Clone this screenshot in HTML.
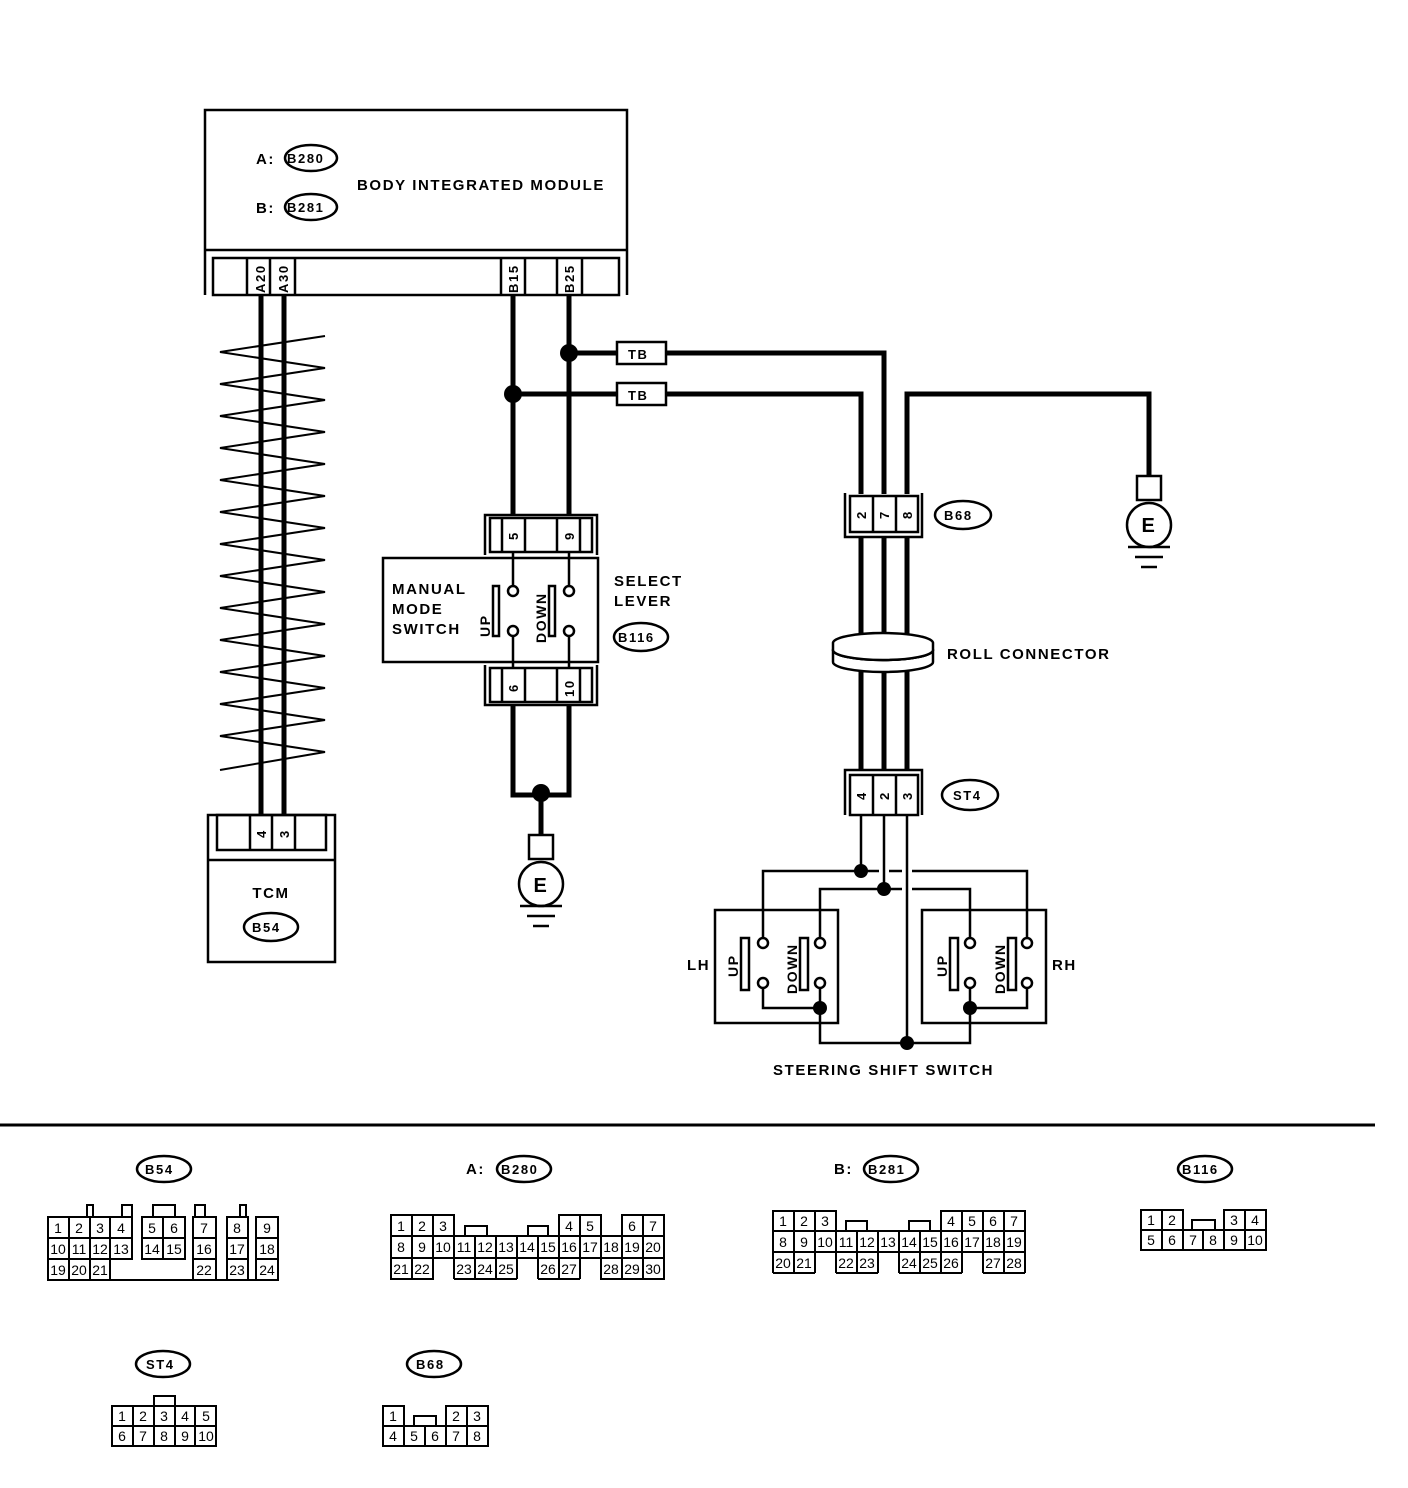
<!DOCTYPE html>
<html><head><meta charset="utf-8"><style>
html,body{margin:0;padding:0;background:#fff}
svg{display:block}
text{font-family:"Liberation Sans",sans-serif;font-weight:bold;fill:#000}
.lab text{letter-spacing:1.6px}
.c text{font-weight:normal;font-size:14px;text-anchor:middle}
</style></head><body>
<svg width="1408" height="1488" viewBox="0 0 1408 1488" xmlns="http://www.w3.org/2000/svg">
<g fill="none" stroke="#000" stroke-width="2.5">
<polyline points="205,295 205,110 627,110 627,295"/>
<line x1="205" y1="250" x2="627" y2="250"/>
<rect x="213" y="258" width="406" height="37"/>
<line x1="247" y1="258" x2="247" y2="295"/><line x1="270" y1="258" x2="270" y2="295"/><line x1="295" y1="258" x2="295" y2="295"/>
<line x1="501" y1="258" x2="501" y2="295"/><line x1="525" y1="258" x2="525" y2="295"/>
<line x1="557" y1="258" x2="557" y2="295"/><line x1="582" y1="258" x2="582" y2="295"/>
<ellipse cx="311" cy="158" rx="26" ry="13"/>
<ellipse cx="311" cy="207" rx="26" ry="13"/>
<polyline stroke-width="2" points="325,336 220,352 325,368 220,384 325,400 220,416 325,432 220,448 325,464 220,480 325,496 220,512 325,528 220,544 325,560 220,576 325,592 220,608 325,624 220,640 325,656 220,672 325,688 220,704 325,720 220,736 325,752 220,770"/>
<g stroke-width="5">
<line x1="261" y1="295" x2="261" y2="815"/><line x1="284" y1="295" x2="284" y2="815"/>
<line x1="513" y1="295" x2="513" y2="515"/><line x1="569" y1="295" x2="569" y2="515"/>
<line x1="569" y1="353" x2="617" y2="353"/><polyline points="665,353 884,353 884,494"/>
<line x1="513" y1="394" x2="617" y2="394"/><polyline points="665,394 861,394 861,494"/>
<polyline points="907,494 907,394 1149,394 1149,476"/>
<line x1="861" y1="537" x2="861" y2="770"/><line x1="884" y1="537" x2="884" y2="770"/><line x1="907" y1="537" x2="907" y2="770"/>
<polyline points="513,705 513,795 569,795 569,705"/>
<line x1="541" y1="795" x2="541" y2="835"/>
</g>
<rect x="617" y="342" width="49" height="22" fill="#fff"/>
<rect x="617" y="383" width="49" height="22" fill="#fff"/>
<polyline points="845,493 845,537 922,537 922,493"/>
<rect x="850" y="496" width="68" height="36" fill="#fff"/>
<line x1="873" y1="496" x2="873" y2="532"/><line x1="896" y1="496" x2="896" y2="532"/>
<ellipse cx="963" cy="515" rx="28" ry="14"/>
<path d="M833,650 a50,10 0 0,0 100,0 v12 a50,10 0 0,1 -100,0 z" fill="#fff"/>
<ellipse cx="883" cy="650" rx="50" ry="10" fill="#fff"/>
<path d="M833,643 a50,10 0 0,1 100,0 v7 a50,10 0 0,1 -100,0 z" fill="#fff"/>
<polyline points="845,815 845,770 922,770 922,815"/>
<rect x="850" y="775" width="68" height="40" fill="#fff"/>
<line x1="873" y1="775" x2="873" y2="815"/><line x1="896" y1="775" x2="896" y2="815"/>
<ellipse cx="970" cy="795" rx="28" ry="15"/>
<rect x="1137" y="476" width="24" height="24"/>
<circle cx="1149" cy="525" r="22"/>
<line x1="1128" y1="547" x2="1170" y2="547"/><line x1="1135" y1="557" x2="1163" y2="557"/><line x1="1141" y1="567" x2="1157" y2="567"/>
<rect x="529" y="835" width="24" height="24"/>
<circle cx="541" cy="884" r="22"/>
<line x1="520" y1="906" x2="562" y2="906"/><line x1="527" y1="916" x2="555" y2="916"/><line x1="533" y1="926" x2="549" y2="926"/>
<polyline points="485,555 485,515 597,515 597,555"/>
<rect x="490" y="518" width="102" height="34"/>
<line x1="502" y1="518" x2="502" y2="552"/><line x1="525" y1="518" x2="525" y2="552"/><line x1="557" y1="518" x2="557" y2="552"/><line x1="580" y1="518" x2="580" y2="552"/>
<rect x="383" y="558" width="215" height="104"/>
<polyline points="485,665 485,705 597,705 597,665"/>
<rect x="490" y="668" width="102" height="34"/>
<line x1="502" y1="668" x2="502" y2="702"/><line x1="525" y1="668" x2="525" y2="702"/><line x1="557" y1="668" x2="557" y2="702"/><line x1="580" y1="668" x2="580" y2="702"/>
<line x1="513" y1="552" x2="513" y2="585"/><line x1="569" y1="552" x2="569" y2="585"/>
<line x1="513" y1="637" x2="513" y2="668"/><line x1="569" y1="637" x2="569" y2="668"/>
<circle cx="513" cy="591" r="5"/><circle cx="513" cy="631" r="5"/><circle cx="569" cy="591" r="5"/><circle cx="569" cy="631" r="5"/>
<rect x="493" y="586" width="6" height="50"/><rect x="549" y="586" width="6" height="50"/>
<ellipse cx="641" cy="637" rx="27" ry="14"/>
<rect x="208" y="815" width="127" height="147"/>
<line x1="208" y1="860" x2="335" y2="860"/>
<rect x="217" y="815" width="109" height="35"/>
<line x1="250" y1="815" x2="250" y2="850"/><line x1="272" y1="815" x2="272" y2="850"/><line x1="295" y1="815" x2="295" y2="850"/>
<ellipse cx="271" cy="927" rx="27" ry="14"/>
<line x1="861" y1="815" x2="861" y2="871"/><line x1="884" y1="815" x2="884" y2="889"/><line x1="907" y1="815" x2="907" y2="1043"/>
<polyline points="763,937 763,871 879,871"/><polyline points="889,871 902,871"/><polyline points="912,871 1027,871 1027,937"/>
<polyline points="820,937 820,889 902,889"/><polyline points="912,889 970,889 970,937"/>
<rect x="715" y="910" width="123" height="113"/>
<rect x="922" y="910" width="124" height="113"/>
<rect x="741" y="938" width="8" height="52"/><rect x="800" y="938" width="8" height="52"/>
<rect x="950" y="938" width="8" height="52"/><rect x="1008" y="938" width="8" height="52"/>
<circle cx="763" cy="943" r="5"/><circle cx="763" cy="983" r="5"/><circle cx="820" cy="943" r="5"/><circle cx="820" cy="983" r="5"/>
<circle cx="970" cy="943" r="5"/><circle cx="970" cy="983" r="5"/><circle cx="1027" cy="943" r="5"/><circle cx="1027" cy="983" r="5"/>
<polyline points="763,988 763,1008 820,1008"/><line x1="820" y1="988" x2="820" y2="1008"/>
<polyline points="1027,988 1027,1008 970,1008"/><line x1="970" y1="988" x2="970" y2="1008"/>
<polyline points="820,1008 820,1043 970,1043 970,1008"/>
<line x1="0" y1="1125" x2="1375" y2="1125" stroke-width="3"/>
<ellipse cx="164" cy="1169" rx="27" ry="13"/>
<ellipse cx="524" cy="1169" rx="27" ry="13"/>
<ellipse cx="891" cy="1169" rx="27" ry="13"/>
<ellipse cx="1205" cy="1169" rx="27" ry="13"/>
<ellipse cx="163" cy="1364" rx="27" ry="13"/>
<ellipse cx="434" cy="1364" rx="27" ry="13"/>
</g>
<g fill="#000">
<circle cx="569" cy="353" r="9"/><circle cx="513" cy="394" r="9"/><circle cx="541" cy="793" r="9"/>
<circle cx="861" cy="871" r="7"/><circle cx="884" cy="889" r="7"/><circle cx="907" cy="1043" r="7"/>
<circle cx="820" cy="1008" r="7"/><circle cx="970" cy="1008" r="7"/>
</g>
<g font-size="15" class="lab">
<text x="256" y="164">A:</text><text x="287" y="163" font-size="13">B280</text>
<text x="256" y="213">B:</text><text x="287" y="212" font-size="13">B281</text>
<text x="357" y="190">BODY INTEGRATED MODULE</text>
<text x="628" y="359" font-size="13">TB</text><text x="628" y="400" font-size="13">TB</text>
<text x="944" y="520" font-size="13">B68</text>
<text x="947" y="659">ROLL CONNECTOR</text>
<text x="953" y="800" font-size="13">ST4</text>
<text x="1149" y="532" text-anchor="middle" font-size="20">E</text>
<text x="541" y="892" text-anchor="middle" font-size="20">E</text>
<text x="392" y="594">MANUAL</text><text x="392" y="614">MODE</text><text x="392" y="634">SWITCH</text>
<text x="614" y="586">SELECT</text><text x="614" y="606">LEVER</text>
<text x="618" y="642" font-size="13">B116</text>
<text x="271" y="898" text-anchor="middle">TCM</text>
<text x="252" y="932" font-size="13">B54</text>
<text x="687" y="970">LH</text><text x="1052" y="970">RH</text>
<text x="773" y="1075">STEERING SHIFT SWITCH</text>
<text x="145" y="1174" font-size="13">B54</text>
<text x="466" y="1174">A:</text><text x="501" y="1174" font-size="13">B280</text>
<text x="834" y="1174">B:</text><text x="868" y="1174" font-size="13">B281</text>
<text x="1182" y="1174" font-size="13">B116</text>
<text x="146" y="1369" font-size="13">ST4</text>
<text x="416" y="1369" font-size="13">B68</text>
</g>
<g font-size="13" class="lab">
<text transform="translate(265,293) rotate(-90)">A20</text>
<text transform="translate(288,293) rotate(-90)">A30</text>
<text transform="translate(518,293) rotate(-90)">B15</text>
<text transform="translate(574,293) rotate(-90)">B25</text>
<text transform="translate(518,540) rotate(-90)">5</text>
<text transform="translate(574,540) rotate(-90)">9</text>
<text transform="translate(518,692) rotate(-90)">6</text>
<text transform="translate(574,697) rotate(-90)">10</text>
<text transform="translate(866,519) rotate(-90)">2</text>
<text transform="translate(889,519) rotate(-90)">7</text>
<text transform="translate(912,519) rotate(-90)">8</text>
<text transform="translate(866,800) rotate(-90)">4</text>
<text transform="translate(889,800) rotate(-90)">2</text>
<text transform="translate(912,800) rotate(-90)">3</text>
<text transform="translate(266,838) rotate(-90)">4</text>
<text transform="translate(289,838) rotate(-90)">3</text>
<text transform="translate(490,637) rotate(-90)" font-size="14">UP</text>
<text transform="translate(546,643) rotate(-90)" font-size="14">DOWN</text>
<text transform="translate(738,977) rotate(-90)" font-size="14">UP</text>
<text transform="translate(797,994) rotate(-90)" font-size="14">DOWN</text>
<text transform="translate(947,977) rotate(-90)" font-size="14">UP</text>
<text transform="translate(1005,994) rotate(-90)" font-size="14">DOWN</text>
</g>
<g class="c" stroke="#000" stroke-width="2" fill="none">
<rect x="87" y="1205" width="6" height="12"/><rect x="122" y="1205" width="10" height="12"/><rect x="153" y="1205" width="22" height="12"/><rect x="195" y="1205" width="10" height="12"/><rect x="240" y="1205" width="6" height="12"/>
<rect x="48" y="1217" width="21" height="21"/><rect x="69" y="1217" width="21" height="21"/><rect x="90" y="1217" width="20" height="21"/><rect x="110" y="1217" width="22" height="21"/>
<rect x="142" y="1217" width="21" height="21"/><rect x="163" y="1217" width="22" height="21"/><rect x="193" y="1217" width="23" height="21"/><rect x="227" y="1217" width="21" height="21"/><rect x="256" y="1217" width="22" height="21"/>
<rect x="48" y="1238" width="21" height="21"/><rect x="69" y="1238" width="21" height="21"/><rect x="90" y="1238" width="20" height="21"/><rect x="110" y="1238" width="22" height="21"/>
<rect x="142" y="1238" width="21" height="21"/><rect x="163" y="1238" width="22" height="21"/><rect x="193" y="1238" width="23" height="21"/><rect x="227" y="1238" width="21" height="21"/><rect x="256" y="1238" width="22" height="21"/>
<rect x="48" y="1259" width="21" height="21"/><rect x="69" y="1259" width="21" height="21"/><rect x="90" y="1259" width="20" height="21"/>
<rect x="193" y="1259" width="23" height="21"/><rect x="227" y="1259" width="21" height="21"/><rect x="256" y="1259" width="22" height="21"/>
<line x1="110" y1="1280" x2="193" y2="1280"/><line x1="132" y1="1217" x2="132" y2="1259"/><line x1="185" y1="1217" x2="185" y2="1259"/>
<line x1="216" y1="1280" x2="227" y2="1280"/><line x1="248" y1="1280" x2="256" y2="1280"/>
</g>
<g class="c" font-size="13">
<text x="58" y="1233">1</text><text x="79" y="1233">2</text><text x="100" y="1233">3</text><text x="121" y="1233">4</text><text x="152" y="1233">5</text><text x="174" y="1233">6</text><text x="204" y="1233">7</text><text x="237" y="1233">8</text><text x="267" y="1233">9</text>
<text x="58" y="1254">10</text><text x="79" y="1254">11</text><text x="100" y="1254">12</text><text x="121" y="1254">13</text><text x="152" y="1254">14</text><text x="174" y="1254">15</text><text x="204" y="1254">16</text><text x="237" y="1254">17</text><text x="267" y="1254">18</text>
<text x="58" y="1275">19</text><text x="79" y="1275">20</text><text x="100" y="1275">21</text><text x="204" y="1275">22</text><text x="237" y="1275">23</text><text x="267" y="1275">24</text>
</g>
<g stroke="#000" stroke-width="2" fill="none">
<rect x="391" y="1215" width="63" height="21"/><line x1="412" y1="1215" x2="412" y2="1236"/><line x1="433" y1="1215" x2="433" y2="1236"/>
<rect x="559" y="1215" width="42" height="21"/><line x1="580" y1="1215" x2="580" y2="1236"/>
<rect x="622" y="1215" width="42" height="21"/><line x1="643" y1="1215" x2="643" y2="1236"/>
<rect x="465" y="1226" width="22" height="10"/><rect x="528" y="1226" width="20" height="10"/>
<rect x="391" y="1236" width="273" height="22"/>
<line x1="412" y1="1236" x2="412" y2="1258"/><line x1="433" y1="1236" x2="433" y2="1258"/><line x1="454" y1="1236" x2="454" y2="1279"/><line x1="475" y1="1236" x2="475" y2="1279"/><line x1="496" y1="1236" x2="496" y2="1279"/><line x1="517" y1="1236" x2="517" y2="1279"/><line x1="538" y1="1236" x2="538" y2="1279"/><line x1="559" y1="1236" x2="559" y2="1279"/><line x1="580" y1="1236" x2="580" y2="1279"/><line x1="601" y1="1236" x2="601" y2="1279"/><line x1="622" y1="1236" x2="622" y2="1279"/><line x1="643" y1="1236" x2="643" y2="1279"/>
<rect x="391" y="1258" width="42" height="21"/><line x1="412" y1="1258" x2="412" y2="1279"/>
<line x1="454" y1="1279" x2="517" y2="1279"/><line x1="538" y1="1279" x2="580" y2="1279"/><rect x="601" y="1258" width="63" height="21"/>
</g>
<g class="c" font-size="13">
<text x="401" y="1231">1</text><text x="422" y="1231">2</text><text x="443" y="1231">3</text><text x="569" y="1231">4</text><text x="590" y="1231">5</text><text x="632" y="1231">6</text><text x="653" y="1231">7</text>
<text x="401" y="1252">8</text><text x="422" y="1252">9</text><text x="443" y="1252">10</text><text x="464" y="1252">11</text><text x="485" y="1252">12</text><text x="506" y="1252">13</text><text x="527" y="1252">14</text><text x="548" y="1252">15</text><text x="569" y="1252">16</text><text x="590" y="1252">17</text><text x="611" y="1252">18</text><text x="632" y="1252">19</text><text x="653" y="1252">20</text>
<text x="401" y="1274">21</text><text x="422" y="1274">22</text><text x="464" y="1274">23</text><text x="485" y="1274">24</text><text x="506" y="1274">25</text><text x="548" y="1274">26</text><text x="569" y="1274">27</text><text x="611" y="1274">28</text><text x="632" y="1274">29</text><text x="653" y="1274">30</text>
</g>
<g stroke="#000" stroke-width="2" fill="none">
<rect x="773" y="1211" width="63" height="20"/><line x1="794" y1="1211" x2="794" y2="1231"/><line x1="815" y1="1211" x2="815" y2="1231"/>
<rect x="941" y="1211" width="84" height="20"/><line x1="962" y1="1211" x2="962" y2="1231"/><line x1="983" y1="1211" x2="983" y2="1231"/><line x1="1004" y1="1211" x2="1004" y2="1231"/>
<rect x="846" y="1221" width="21" height="10"/><rect x="909" y="1221" width="21" height="10"/>
<rect x="773" y="1231" width="252" height="21"/>
<line x1="794" y1="1231" x2="794" y2="1273"/><line x1="815" y1="1231" x2="815" y2="1252"/><line x1="836" y1="1231" x2="836" y2="1273"/><line x1="857" y1="1231" x2="857" y2="1273"/><line x1="878" y1="1231" x2="878" y2="1273"/><line x1="899" y1="1231" x2="899" y2="1273"/><line x1="920" y1="1231" x2="920" y2="1273"/><line x1="941" y1="1231" x2="941" y2="1273"/><line x1="962" y1="1231" x2="962" y2="1273"/><line x1="983" y1="1231" x2="983" y2="1273"/><line x1="1004" y1="1231" x2="1004" y2="1273"/>
<line x1="773" y1="1231" x2="773" y2="1273"/><line x1="773" y1="1273" x2="815" y2="1273"/><line x1="815" y1="1252" x2="815" y2="1273"/>
<line x1="836" y1="1273" x2="878" y2="1273"/><line x1="899" y1="1273" x2="962" y2="1273"/><line x1="983" y1="1273" x2="1025" y2="1273"/><line x1="1025" y1="1252" x2="1025" y2="1273"/>
</g>
<g class="c" font-size="13">
<text x="783" y="1226">1</text><text x="804" y="1226">2</text><text x="825" y="1226">3</text><text x="951" y="1226">4</text><text x="972" y="1226">5</text><text x="993" y="1226">6</text><text x="1014" y="1226">7</text>
<text x="783" y="1247">8</text><text x="804" y="1247">9</text><text x="825" y="1247">10</text><text x="846" y="1247">11</text><text x="867" y="1247">12</text><text x="888" y="1247">13</text><text x="909" y="1247">14</text><text x="930" y="1247">15</text><text x="951" y="1247">16</text><text x="972" y="1247">17</text><text x="993" y="1247">18</text><text x="1014" y="1247">19</text>
<text x="783" y="1268">20</text><text x="804" y="1268">21</text><text x="846" y="1268">22</text><text x="867" y="1268">23</text><text x="909" y="1268">24</text><text x="930" y="1268">25</text><text x="951" y="1268">26</text><text x="993" y="1268">27</text><text x="1014" y="1268">28</text>
</g>
<g stroke="#000" stroke-width="2" fill="none">
<rect x="1141" y="1210" width="42" height="20"/><line x1="1162" y1="1210" x2="1162" y2="1230"/>
<rect x="1224" y="1210" width="42" height="20"/><line x1="1245" y1="1210" x2="1245" y2="1230"/>
<rect x="1192" y="1220" width="23" height="10"/>
<rect x="1141" y="1230" width="125" height="20"/>
<line x1="1162" y1="1230" x2="1162" y2="1250"/><line x1="1183" y1="1230" x2="1183" y2="1250"/><line x1="1203" y1="1230" x2="1203" y2="1250"/><line x1="1224" y1="1230" x2="1224" y2="1250"/><line x1="1245" y1="1230" x2="1245" y2="1250"/>
</g>
<g class="c" font-size="13">
<text x="1151" y="1225">1</text><text x="1172" y="1225">2</text><text x="1234" y="1225">3</text><text x="1255" y="1225">4</text>
<text x="1151" y="1245">5</text><text x="1172" y="1245">6</text><text x="1193" y="1245">7</text><text x="1213" y="1245">8</text><text x="1234" y="1245">9</text><text x="1255" y="1245">10</text>
</g>
<g stroke="#000" stroke-width="2" fill="none">
<rect x="112" y="1406" width="104" height="40"/><line x1="112" y1="1426" x2="216" y2="1426"/>
<line x1="133" y1="1406" x2="133" y2="1446"/><line x1="154" y1="1406" x2="154" y2="1446"/><line x1="175" y1="1406" x2="175" y2="1446"/><line x1="195" y1="1406" x2="195" y2="1446"/>
<rect x="154" y="1396" width="21" height="10"/>
</g>
<g class="c" font-size="13">
<text x="122" y="1421">1</text><text x="143" y="1421">2</text><text x="164" y="1421">3</text><text x="185" y="1421">4</text><text x="206" y="1421">5</text>
<text x="122" y="1441">6</text><text x="143" y="1441">7</text><text x="164" y="1441">8</text><text x="185" y="1441">9</text><text x="206" y="1441">10</text>
</g>
<g stroke="#000" stroke-width="2" fill="none">
<rect x="383" y="1406" width="21" height="20"/><rect x="446" y="1406" width="42" height="20"/><line x1="467" y1="1406" x2="467" y2="1426"/>
<rect x="414" y="1416" width="22" height="10"/>
<rect x="383" y="1426" width="105" height="20"/>
<line x1="404" y1="1426" x2="404" y2="1446"/><line x1="425" y1="1426" x2="425" y2="1446"/><line x1="446" y1="1426" x2="446" y2="1446"/><line x1="467" y1="1426" x2="467" y2="1446"/>
</g>
<g class="c" font-size="13">
<text x="393" y="1421">1</text><text x="456" y="1421">2</text><text x="477" y="1421">3</text>
<text x="393" y="1441">4</text><text x="414" y="1441">5</text><text x="435" y="1441">6</text><text x="456" y="1441">7</text><text x="477" y="1441">8</text>
</g>
</svg>
</body></html>
